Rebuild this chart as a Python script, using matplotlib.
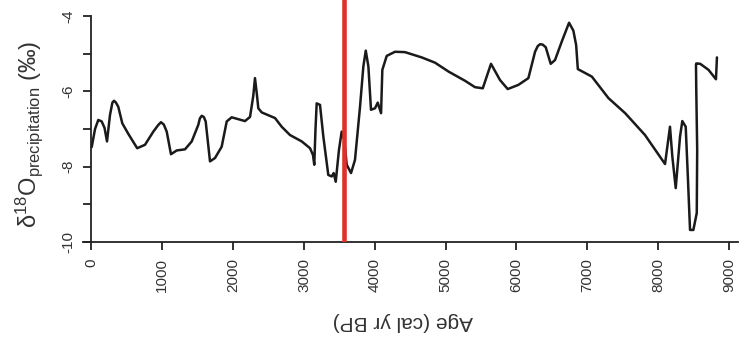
import matplotlib
matplotlib.use("Agg")
import matplotlib.pyplot as plt

plt.rcParams['font.family'] = ['Liberation Sans', 'DejaVu Sans']
plt.rcParams['mathtext.fontset'] = 'custom'
plt.rcParams['mathtext.rm'] = 'Liberation Sans'
plt.rcParams['mathtext.it'] = 'Liberation Sans:italic'
plt.rcParams['mathtext.bf'] = 'Liberation Sans:bold'

# Age (cal yr BP) and reconstructed d18O of precipitation (permil)
age = [3, 50, 96, 144, 184, 219, 261, 295, 318, 345, 378, 435, 520, 645, 755,
       873, 940, 981, 1020, 1062, 1122, 1203, 1320, 1415, 1508, 1530, 1556,
       1585, 1612, 1673, 1744, 1838, 1909, 1979, 2073, 2167, 2238, 2284, 2308,
       2336, 2355, 2403, 2591, 2685, 2802, 2968, 3085, 3127, 3145, 3162, 3179,
       3226, 3273, 3343, 3391, 3419, 3448, 3494, 3532, 3569, 3603, 3664, 3720,
       3791, 3838, 3872, 3909, 3946, 4003, 4041, 4088, 4106, 4168, 4285, 4426,
       4662, 4850, 5044, 5273, 5414, 5524, 5640, 5767, 5876, 6026, 6168, 6262,
       6300, 6332, 6370, 6413, 6483, 6544, 6639, 6742, 6803, 6842, 6866, 6945,
       7064, 7298, 7534, 7814, 8097, 8167, 8200, 8248, 8309, 8341, 8389, 8417,
       8450, 8497, 8545, 8551, 8538, 8534, 8538, 8594, 8711, 8816, 8830]
d18o = [-7.48, -7.0, -6.76, -6.80, -6.97, -7.33, -6.63, -6.30, -6.25, -6.30,
        -6.41, -6.85, -7.13, -7.51, -7.42, -7.07, -6.90, -6.82, -6.88, -7.07,
        -7.67, -7.57, -7.54, -7.33, -6.89, -6.72, -6.65, -6.68, -6.80, -7.86,
        -7.77, -7.47, -6.80, -6.69, -6.74, -6.79, -6.68, -6.12, -5.65, -6.10,
        -6.45, -6.56, -6.71, -6.94, -7.16, -7.33, -7.51, -7.69, -7.95, -7.02,
        -6.32, -6.36, -7.20, -8.22, -8.26, -8.17, -8.40, -7.55, -7.07, -7.29,
        -7.95, -8.17, -7.82, -6.41, -5.34, -4.92, -5.34, -6.49, -6.45, -6.30,
        -6.58, -5.43, -5.06, -4.95, -4.96, -5.10, -5.24, -5.48, -5.72, -5.89,
        -5.92, -5.27, -5.70, -5.94, -5.83, -5.65, -4.95, -4.80, -4.75, -4.76,
        -4.83, -5.27, -5.17, -4.68, -4.18, -4.39, -4.77, -5.41, -5.49, -5.61,
        -6.18, -6.58, -7.16, -7.93, -6.94, -7.73, -8.57, -7.20, -6.79, -6.94,
        -8.17, -9.68, -9.68, -9.23, -7.55, -5.96, -5.30, -5.26, -5.27, -5.43,
        -5.68, -5.10]

event_age = 3570

x_ticks = [0, 1000, 2000, 3000, 4000, 5000, 6000, 7000, 8000, 9000]
y_ticks = [-10, -9, -8, -7, -6, -5, -4]
y_ticklabels = ['-10', '', '-8', '', '-6', '', '-4']

fig = plt.figure(figsize=(7.44, 3.44), dpi=100)
ax = fig.add_axes([83.35 / 744, 102 / 344, (738.2 - 83.35) / 744, 242 / 344])

ax.plot(age, d18o, color='#1a1a1a', lw=1.8, solid_joinstyle='round',
        solid_capstyle='round', zorder=2)
ax.axvline(event_age, color='#e0302a', lw=3.3, zorder=3)

ax.set_xlim(-115, 9130)
ax.set_ylim(-10, -3.576)

for side in ('top', 'right'):
    ax.spines[side].set_visible(False)
ax.spines['left'].set_position(('data', 0))
ax.spines['left'].set_bounds(-10, -4)
for side in ('left', 'bottom'):
    ax.spines[side].set_linewidth(1.3)
    ax.spines[side].set_color('#222222')

ax.set_xticks(x_ticks)
ax.set_xticklabels([str(t) for t in x_ticks], rotation=90, va='top', ha='center')
ax.set_yticks(y_ticks)
ax.set_yticklabels(y_ticklabels, rotation=90, va='center', ha='right')
ax.tick_params(axis='both', direction='out', length=5.8, width=1.3,
               color='#222222', labelsize=11, labelcolor='#333333', pad=6)

fig.text(29 / 744, 1 - 134 / 344,
         'δ$^{18}$O$_{\\mathrm{precipitation}}$ (‰)',
         rotation=90, ha='center', va='center', fontsize=17, color='#333333')
fig.text(402.5 / 744, 1 - 322 / 344, 'Age (cal yr BP)', rotation=180,
         ha='center', va='center', fontsize=15, color='#333333')

fig.savefig('out.png', dpi=100)
